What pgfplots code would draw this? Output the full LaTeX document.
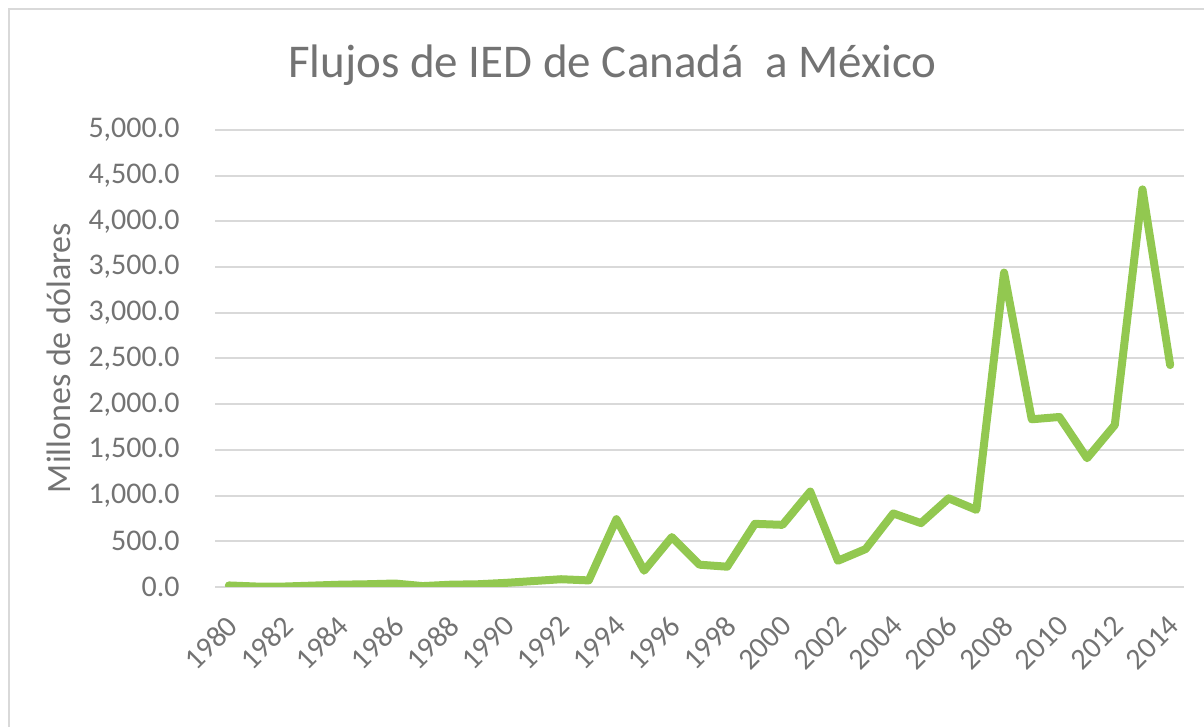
\documentclass[border=0pt]{standalone}
\usepackage{pgfplots}
\pgfplotsset{compat=1.18}
\usepackage{fontspec}
\setmainfont{Carlito}
\definecolor{txt}{RGB}{115,115,115}
\definecolor{gridc}{RGB}{217,217,217}
\definecolor{linec}{RGB}{146,200,80}
\begin{document}
\begin{tikzpicture}
\useasboundingbox (0,0) rectangle (602bp,363.5bp);
\draw[gridc, line width=1bp] (4.5bp,0) -- (4.5bp,359bp) -- (602bp,359bp);
\node[anchor=base, text=txt, font=\fontsize{23.5bp}{28bp}\selectfont] at (306.25bp,324.5bp) {Flujos de IED de Canadá\ \ a México};
\node[anchor=base, rotate=90, text=txt, font=\fontsize{17bp}{20bp}\selectfont] at (35bp,184.5bp) {Millones de dólares};
\begin{axis}[
  at={(107.5bp,70bp)}, anchor=south west,
  scale only axis, width=484.5bp, height=228.5bp,
  xmin=1979.5, xmax=2014.5, ymin=0, ymax=5000,
  xtick={1980,1982,...,2014},
  ytick={0,500,...,5000},
  axis line style={draw=none},
  tick style={draw=none},
  ymajorgrids, major grid style={gridc, line width=1bp},
  /pgf/number format/assume math mode=true,
  yticklabel style={/pgf/number format/fixed, /pgf/number format/fixed zerofill, /pgf/number format/precision=1, /pgf/number format/1000 sep={,}, anchor=east, inner sep=0pt, xshift=-17.5bp, text=txt, font=\fontsize{15bp}{18bp}\selectfont},
  xticklabel style={xshift=2bp, yshift=-17bp, rotate=45, anchor=east, inner sep=0pt, text=txt, font=\fontsize{15bp}{18bp}\selectfont},
  xticklabel={\pgfmathprintnumber[1000 sep={}]{\tick}},
]
\addplot[linec, line width=4bp, line join=round, line cap=round] coordinates {
(1980,17) (1981,5) (1982,5) (1983,15) (1984,25) (1985,30) (1986,38) (1987,10)
(1988,25) (1989,30) (1990,45) (1991,65) (1992,85) (1993,72) (1994,742) (1995,178)
(1996,546) (1997,244) (1998,222) (1999,691) (2000,680) (2001,1044) (2002,287)
(2003,415) (2004,805) (2005,699) (2006,970) (2007,844) (2008,3440) (2009,1835)
(2010,1860) (2011,1409) (2012,1772) (2013,4350) (2014,2428)
};
\end{axis}
\end{tikzpicture}
\end{document}
